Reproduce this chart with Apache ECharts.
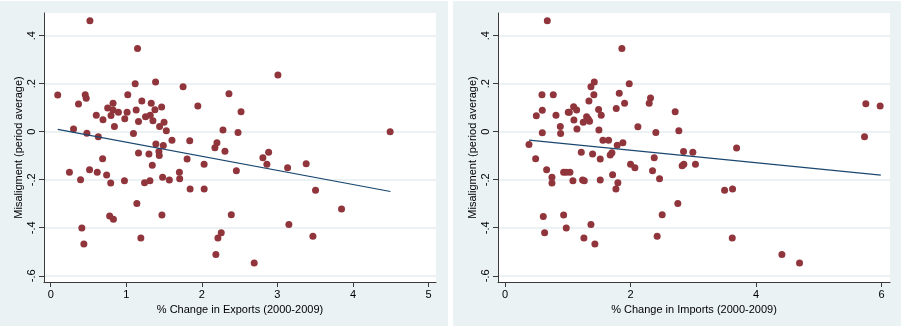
<!DOCTYPE html>
<html>
<head>
<meta charset="utf-8">
<script src="https://cdn.jsdelivr.net/npm/echarts@6/dist/echarts.min.js"></script>
<style>
html,body{margin:0;padding:0;background:#fff;}
#chart{width:901px;height:326px;}
</style>
</head>
<body>
<div id="chart"></div>
<script>
// ---- data ----
const exportsX = [0.519,1.149,3.007,1.388,1.118,1.752,2.359,0.457,1.02,0.093,0.47,1.206,1.33,0.825,0.368,1.947,1.468,0.754,1.379,0.825,1.131,2.519,0.896,1.011,0.603,1.317,0.798,1.255,0.98,0.692,1.353,1.162,1.5,0.843,1.441,0.302,2.28,1.53,4.492,2.479,0.479,1.095,0.63,1.605,1.84,2.2,1.392,1.49,2.173,2.306,1.432,2.884,1.162,1.3,1.437,2.808,0.687,1.805,3.381,2.03,2.861,1.344,3.135,0.514,2.457,0.248,0.616,1.703,0.74,1.481,1.707,0.395,1.57,0.976,1.313,1.242,0.794,1.845,2.031,3.505,1.14,3.849,2.39,1.472,0.78,0.83,3.152,0.412,2.257,3.47,1.193,2.213,0.439,2.186,2.693];
const exportsY = [0.4625,0.347,0.236,0.207,0.2,0.1875,0.158,0.154,0.154,0.153,0.139,0.128,0.119,0.119,0.115,0.107,0.103,0.099,0.092,0.09,0.09,0.083,0.081,0.081,0.069,0.069,0.068,0.0625,0.054,0.05,0.046,0.043,0.039,0.022,0.022,0.011,0.007,0.004,0,-0.003,-0.006,-0.007,-0.021,-0.035,-0.0375,-0.046,-0.051,-0.057,-0.067,-0.081,-0.082,-0.085,-0.089,-0.093,-0.099,-0.108,-0.1125,-0.114,-0.133,-0.135,-0.135,-0.14,-0.15,-0.158,-0.1625,-0.169,-0.169,-0.169,-0.18,-0.19,-0.196,-0.2,-0.201,-0.204,-0.204,-0.2125,-0.214,-0.239,-0.239,-0.244,-0.299,-0.322,-0.346,-0.347,-0.351,-0.365,-0.386,-0.401,-0.421,-0.435,-0.443,-0.443,-0.468,-0.511,-0.547];

const importsX = [0.674,1.862,1.422,1.979,1.369,1.82,0.589,0.769,1.416,2.318,1.337,2.297,1.905,5.748,5.976,1.093,1.772,1.491,1.141,0.594,2.711,1.008,1.024,0.812,1.533,0.499,1.3,1.326,1.098,1.347,1.247,0.881,2.117,1.146,1.496,2.769,2.403,0.594,0.886,5.727,1.56,1.65,1.878,0.382,1.788,3.689,2.844,2.992,1.215,1.703,1.395,1.676,2.377,0.488,1.517,2.0,2.849,3.034,2.822,2.069,0.663,2.35,0.934,0.976,1.034,1.714,0.748,2.462,1.236,1.517,1.082,1.263,1.798,0.748,1.767,3.625,3.498,2.753,2.504,0.934,0.61,1.369,0.976,0.631,2.424,1.257,3.62,1.432,4.411,4.692];
const importsY = [0.4625,0.347,0.207,0.2,0.1875,0.16,0.154,0.154,0.154,0.14,0.128,0.119,0.119,0.117,0.107,0.104,0.097,0.093,0.09,0.089,0.083,0.081,0.081,0.069,0.069,0.067,0.0625,0.053,0.049,0.044,0.04,0.022,0.021,0.011,0.007,0.004,-0.003,-0.004,-0.007,-0.021,-0.036,-0.036,-0.046,-0.053,-0.056,-0.068,-0.082,-0.085,-0.085,-0.0875,-0.093,-0.097,-0.108,-0.1125,-0.114,-0.135,-0.135,-0.135,-0.142,-0.15,-0.158,-0.1625,-0.169,-0.169,-0.169,-0.179,-0.19,-0.196,-0.201,-0.201,-0.204,-0.204,-0.2125,-0.214,-0.239,-0.239,-0.244,-0.299,-0.346,-0.347,-0.353,-0.386,-0.401,-0.421,-0.435,-0.443,-0.443,-0.468,-0.511,-0.547];

// fitted lines (end points)
const fitExportsX = [0.093, 4.496];
const fitExportsY = [0.0097, -0.249];
const fitImportsX = [0.382, 5.987];
const fitImportsY = [-0.035, -0.181];

// tick values and labels
const yTickValues = [-0.6, -0.4, -0.2, 0, 0.2, 0.4];
const yTickLabels = ['-.6', '-.4', '-.2', '0', '.2', '.4'];
const xTicksExports = [0, 1, 2, 3, 4, 5];
const xTicksImports = [0, 2, 4, 6];

const yTitle = 'Misaligment (period average)';
const xTitleExports = '% Change in Exports (2000-2009)';
const xTitleImports = '% Change in Imports (2000-2009)';

// ---- styling ----
const FONT = '"Liberation Sans", Arial, sans-serif';
const PANEL = '#EAF2F3';
const MAROON = '#90353B';
const NAVY = '#1A476F';
const AXIS = '#3a3a3a';

function zip(a, b) { return a.map((v, i) => [v, b[i]]); }
function yLabel(v) {
  for (let i = 0; i < yTickValues.length; i++) {
    if (Math.abs(yTickValues[i] - v) < 1e-9) return yTickLabels[i];
  }
  return '';
}

function xAxisCfg(grid, min, max, ticks, title) {
  return {
    type: 'value', gridIndex: grid, min: min, max: max,
    name: title, nameLocation: 'middle', nameGap: 19,
    nameTextStyle: {fontFamily: FONT, fontSize: 11, color: '#000'},
    axisLine: {show: true, onZero: false, lineStyle: {color: AXIS, width: 1}},
    axisTick: {show: true, length: 5, customValues: ticks, lineStyle: {color: AXIS}},
    axisLabel: {customValues: ticks, margin: 7, fontFamily: FONT, fontSize: 11, color: '#000',
      formatter: v => String(v)},
    splitLine: {show: false}
  };
}
function yAxisCfg(grid) {
  return {
    type: 'value', gridIndex: grid, min: -0.626, max: 0.4946,
    name: yTitle, nameLocation: 'middle', nameGap: 20,
    nameTextStyle: {fontFamily: FONT, fontSize: 11, color: '#000'},
    axisLine: {show: true, onZero: false, lineStyle: {color: AXIS, width: 1}},
    axisTick: {show: true, length: 5, customValues: yTickValues, lineStyle: {color: AXIS}},
    axisLabel: {customValues: yTickValues, rotate: 90, margin: 7, fontFamily: FONT, fontSize: 11,
      color: '#000', formatter: yLabel},
    splitLine: {show: true, lineStyle: {color: '#E6EEF0', width: 1.5}}
  };
}

const chart = echarts.init(document.getElementById('chart'), null, {renderer: 'canvas'});
chart.setOption({
  backgroundColor: PANEL,
  animation: false,
  graphic: [
    {type: 'rect', shape: {x: 0, y: 0, width: 901, height: 1}, style: {fill: '#fff'}, z: -1},
    {type: 'rect', shape: {x: 448, y: 0, width: 5, height: 326}, style: {fill: '#fff'}, z: -1}
  ],
  grid: [
    {left: 44, top: 13, width: 392, height: 269, show: true, backgroundColor: '#fff', borderWidth: 0},
    {left: 498, top: 13, width: 392, height: 269, show: true, backgroundColor: '#fff', borderWidth: 0}
  ],
  xAxis: [
    xAxisCfg(0, -0.0887, 5.099, xTicksExports, xTitleExports),
    xAxisCfg(1, -0.1115, 6.133, xTicksImports, xTitleImports)
  ],
  yAxis: [yAxisCfg(0), yAxisCfg(1)],
  series: [
    {type: 'scatter', xAxisIndex: 0, yAxisIndex: 0, data: zip(exportsX, exportsY),
      symbol: 'circle', symbolSize: 7, itemStyle: {color: MAROON, opacity: 1}, z: 2},
    {type: 'line', xAxisIndex: 0, yAxisIndex: 0, data: zip(fitExportsX, fitExportsY),
      symbol: 'none', lineStyle: {color: NAVY, width: 1.2}, z: 3},
    {type: 'scatter', xAxisIndex: 1, yAxisIndex: 1, data: zip(importsX, importsY),
      symbol: 'circle', symbolSize: 7, itemStyle: {color: MAROON, opacity: 1}, z: 2},
    {type: 'line', xAxisIndex: 1, yAxisIndex: 1, data: zip(fitImportsX, fitImportsY),
      symbol: 'none', lineStyle: {color: NAVY, width: 1.2}, z: 3}
  ]
});
</script>
</body>
</html>
